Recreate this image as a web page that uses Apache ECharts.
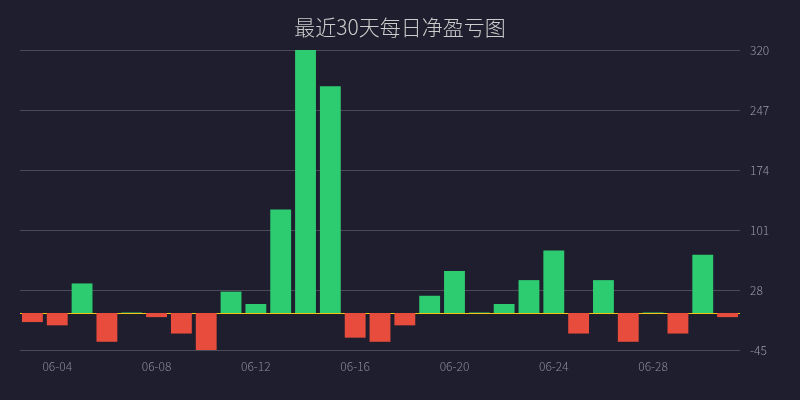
<!DOCTYPE html>
<html>
<head>
<meta charset="utf-8">
<script src="https://cdn.jsdelivr.net/npm/echarts@6/dist/echarts.min.js"></script>
<style>
	html, body { margin: 0; padding: 0; background: #1e1e2e; }
	#chart { width: 800px; height: 400px; }
</style>
</head>
<body>
<div id="chart"></div>
<script>
"use strict";

const dates = [
	"06-03", "06-04", "06-05", "06-06", "06-07", "06-08", "06-09", "06-10",
	"06-11", "06-12", "06-13", "06-14", "06-15", "06-16", "06-17", "06-18",
	"06-19", "06-20", "06-21", "06-22", "06-23", "06-24", "06-25", "06-26",
	"06-27", "06-28", "06-29", "06-30", "07-01"
];
const pnl = [
	-11, -15, 36, -35, 0.6, -5, -25, -46,
	26, 11, 126, 320, 276, -30, -35, -15,
	21, 51, 0.6, 11, 40, 76, -25, 40,
	-35, 0.6, -25, 71, -5
];
const yTicks = { min: -45, max: 320, step: 73 };

const GREEN = "#2ecc71";
const RED = "#e74c3c";

const chart = echarts.init(document.getElementById("chart"));

chart.setOption({
	backgroundColor: "#1e1e2e",
	animation: false,
	textStyle: { fontFamily: "Noto Sans CJK SC" },
	title: {
		text: "最近30天每日净盈亏图",
		left: "center",
		top: 12,
		textStyle: { color: "#cccccc", fontSize: 21, fontWeight: 300 }
	},
	grid: { left: 20, right: 60, top: 50, bottom: 50 },
	xAxis: {
		type: "category",
		data: dates,
		axisLine: { show: false },
		axisTick: { show: false },
		axisLabel: {
			color: "#8a8a99",
			fontSize: 12,
			fontWeight: 300,
			margin: 10,
			// labels on every 4th day, starting with the second one
			interval: (i) => i % 4 === 1
		}
	},
	yAxis: {
		type: "value",
		position: "right",
		min: yTicks.min,
		max: yTicks.max,
		interval: yTicks.step,
		axisLine: { show: false },
		axisTick: { show: false },
		axisLabel: { color: "#9a9aa8", fontSize: 12, fontWeight: 300, margin: 10 },
		splitLine: { lineStyle: { color: "#4a4a58", width: 1 } }
	},
	series: [{
		type: "bar",
		barCategoryGap: "16%",
		data: pnl.map((v) => ({
			value: v,
			itemStyle: { color: v >= 0 ? GREEN : RED }
		})),
		markLine: {
			z: 1,
			silent: true,
			symbol: "none",
			label: { show: false },
			lineStyle: { color: "#f1c40f", type: "solid", width: 1 },
			data: [{ yAxis: 0 }]
		}
	}]
});
</script>
</body>
</html>
